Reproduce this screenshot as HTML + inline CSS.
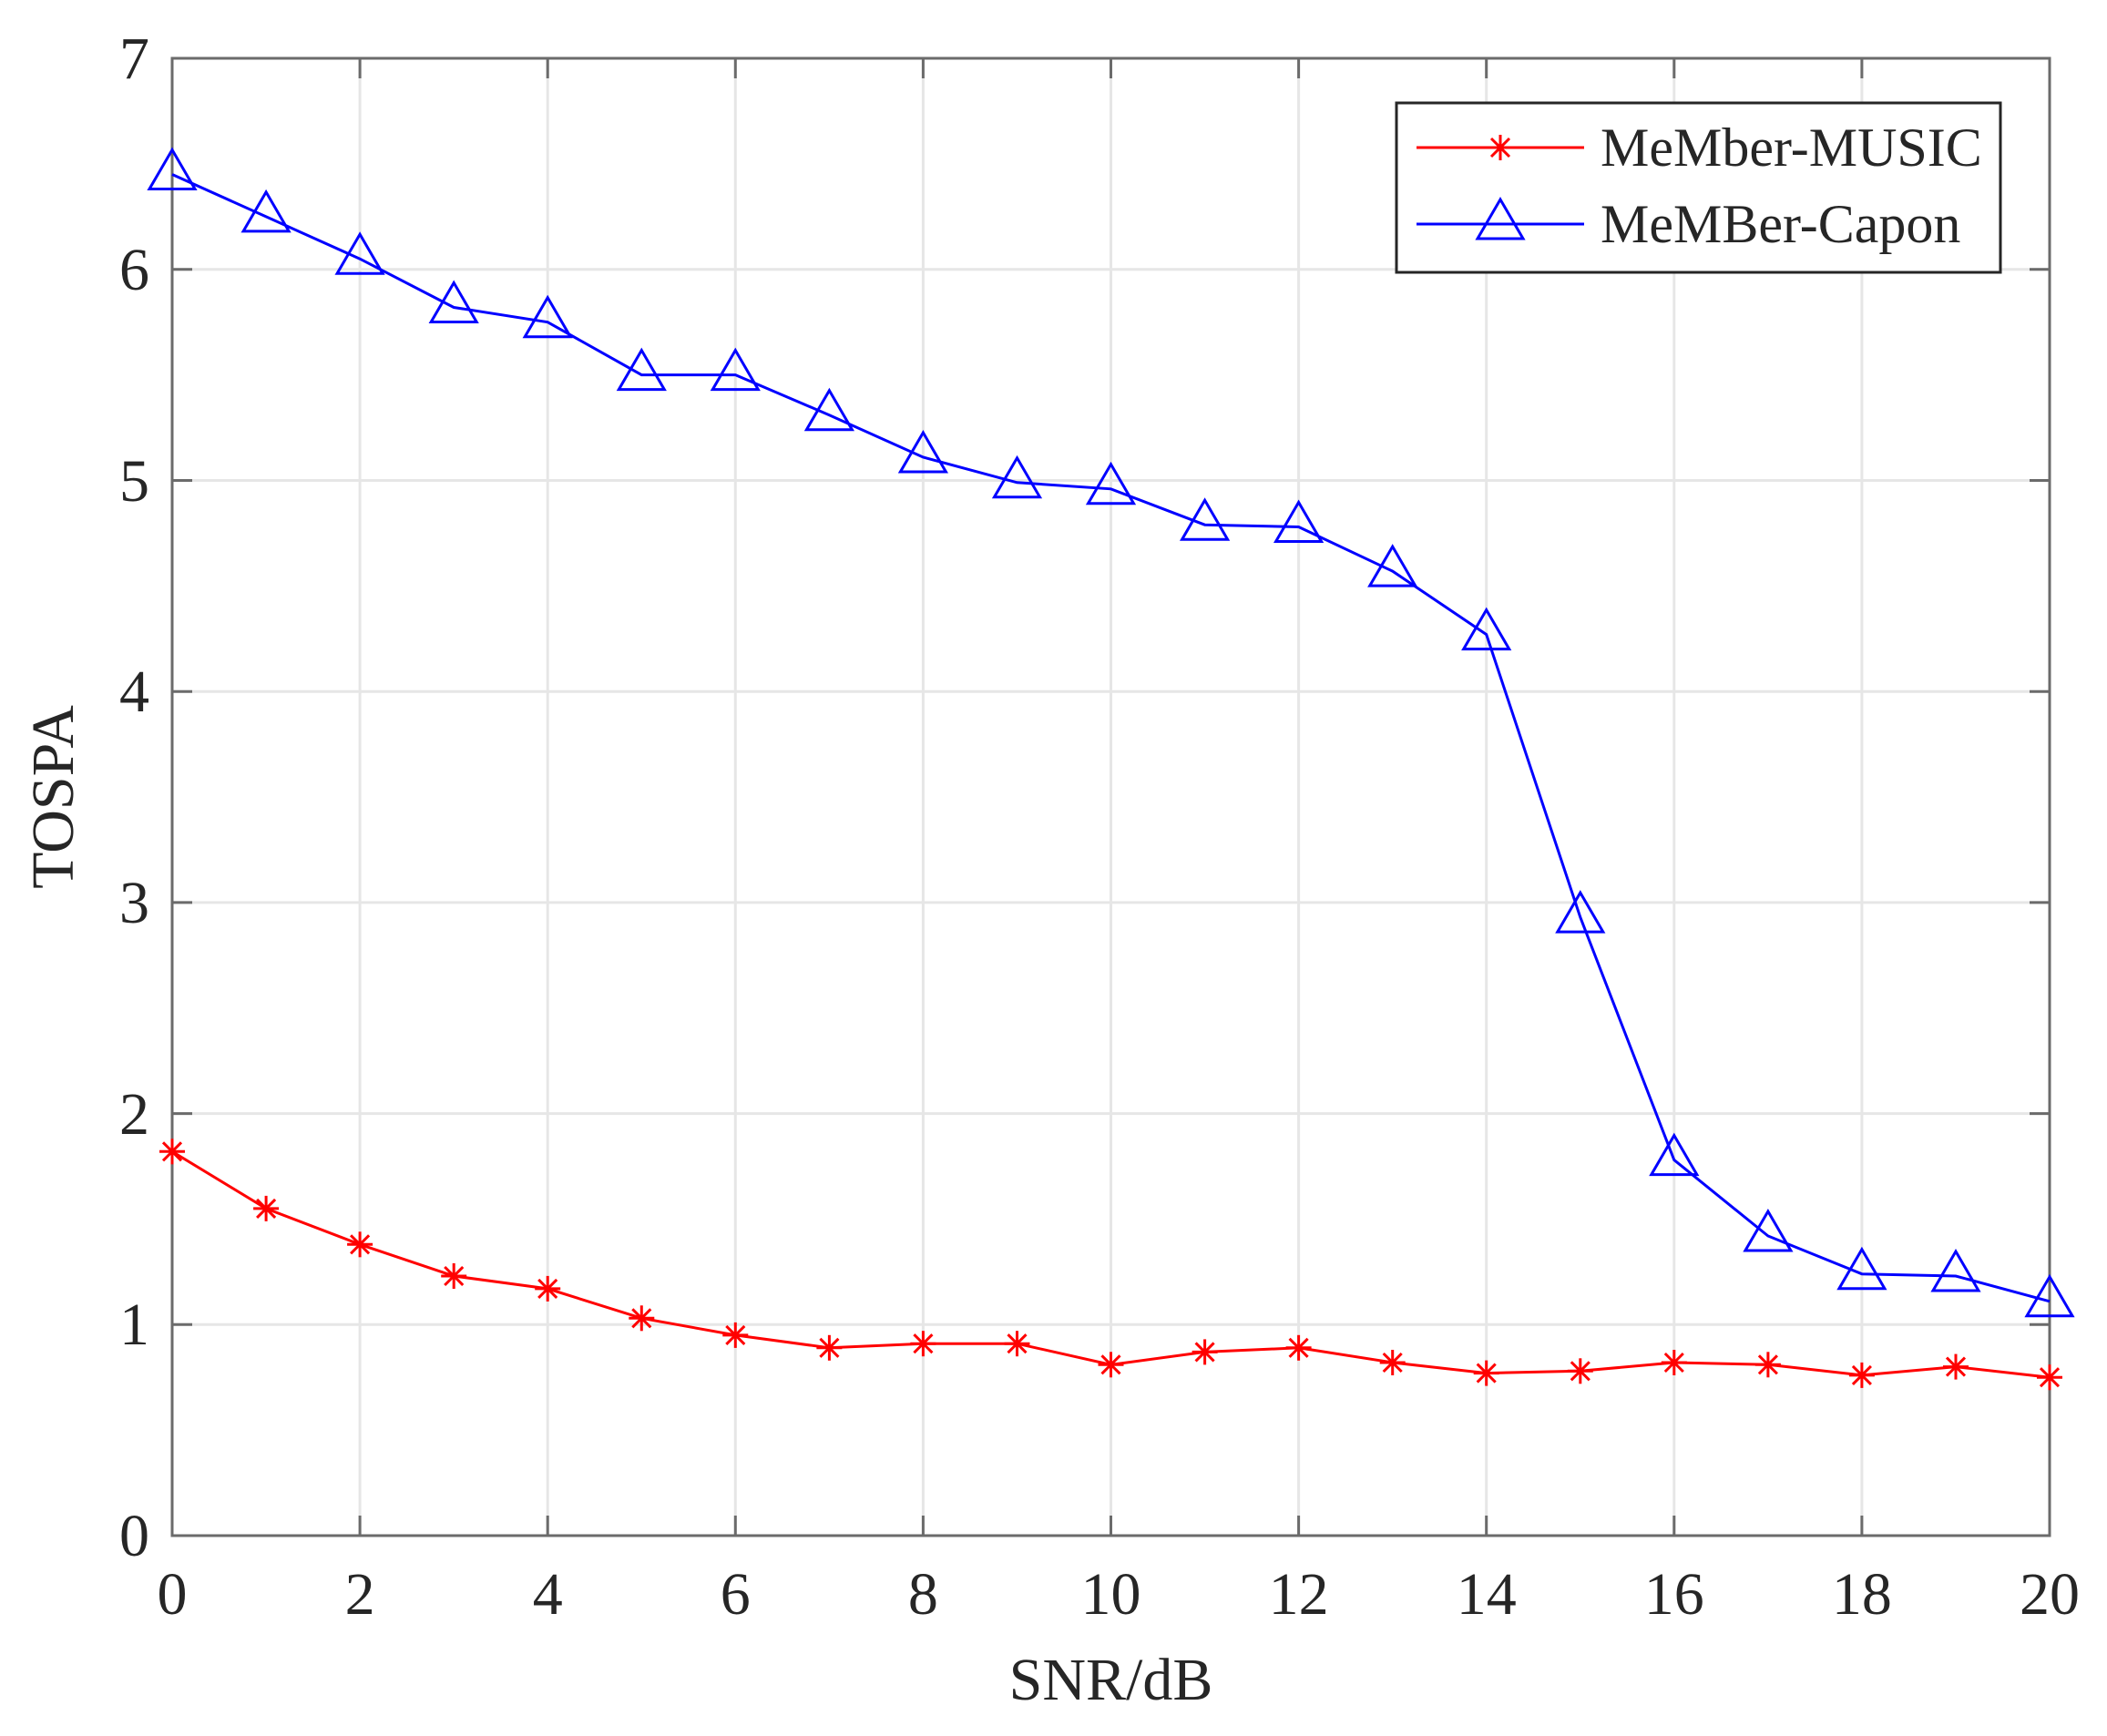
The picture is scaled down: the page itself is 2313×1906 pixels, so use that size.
<!DOCTYPE html>
<html><head><meta charset="utf-8"><style>html,body{margin:0;padding:0;background:#fff}svg{display:block}</style></head>
<body>
<svg width="2313" height="1906" viewBox="0 0 2313 1906" xmlns="http://www.w3.org/2000/svg" font-family="'Liberation Serif',serif" fill="#262626">
<defs>
<path id="tri" d="M0,-27 L25,16 L-25,16Z" fill="none" stroke="#0000ff" stroke-width="3"/>
<g id="ast" stroke="#ff0000" stroke-width="3"><line x1="-14" y1="0" x2="14" y2="0"/><line x1="0" y1="-14" x2="0" y2="14"/><line x1="-10" y1="-10" x2="10" y2="10"/><line x1="-10" y1="10" x2="10" y2="-10"/></g>
</defs>
<rect x="189" y="64" width="2061" height="1622" fill="#fff"/>
<g stroke="#e6e6e6" stroke-width="3">
<line x1="395.1" y1="64" x2="395.1" y2="1686"/><line x1="601.2" y1="64" x2="601.2" y2="1686"/><line x1="807.3" y1="64" x2="807.3" y2="1686"/><line x1="1013.4" y1="64" x2="1013.4" y2="1686"/><line x1="1219.5" y1="64" x2="1219.5" y2="1686"/><line x1="1425.6" y1="64" x2="1425.6" y2="1686"/><line x1="1631.7" y1="64" x2="1631.7" y2="1686"/><line x1="1837.8" y1="64" x2="1837.8" y2="1686"/><line x1="2043.9" y1="64" x2="2043.9" y2="1686"/>
<line x1="189" y1="1454.3" x2="2250" y2="1454.3"/><line x1="189" y1="1222.6" x2="2250" y2="1222.6"/><line x1="189" y1="990.9" x2="2250" y2="990.9"/><line x1="189" y1="759.2" x2="2250" y2="759.2"/><line x1="189" y1="527.5" x2="2250" y2="527.5"/><line x1="189" y1="295.8" x2="2250" y2="295.8"/>
</g>
<g stroke="#6b6b6b" stroke-width="3">
<path d="M395.1,1686v-22M601.2,1686v-22M807.3,1686v-22M1013.4,1686v-22M1219.5,1686v-22M1425.6,1686v-22M1631.7,1686v-22M1837.8,1686v-22M2043.9,1686v-22M395.1,64v22M601.2,64v22M807.3,64v22M1013.4,64v22M1219.5,64v22M1425.6,64v22M1631.7,64v22M1837.8,64v22M2043.9,64v22"/>
<path d="M189,1454.3h22M189,1222.6h22M189,990.9h22M189,759.2h22M189,527.5h22M189,295.8h22M2250,1454.3h-22M2250,1222.6h-22M2250,990.9h-22M2250,759.2h-22M2250,527.5h-22M2250,295.8h-22"/>
<rect x="189" y="64" width="2061" height="1622" fill="none"/>
</g>
<polyline fill="none" stroke="#ff0000" stroke-width="3" points="189,1264.3 292.1,1326.9 395.1,1366.3 498.2,1401 601.2,1414.9 704.3,1447.3 807.3,1465.9 910.4,1479.8 1013.4,1475.2 1116.5,1475.2 1219.5,1498.3 1322.6,1484.4 1425.6,1479.8 1528.7,1496 1631.7,1507.6 1734.8,1505.3 1837.8,1496 1940.9,1498.3 2043.9,1509.9 2147,1500.6 2250,1512.2"/>
<polyline fill="none" stroke="#0000ff" stroke-width="3" points="189,191.5 292.1,237.9 395.1,284.2 498.2,337.5 601.2,353.7 704.3,411.6 807.3,411.6 910.4,455.7 1013.4,502 1116.5,529.8 1219.5,536.8 1322.6,576.2 1425.6,578.5 1528.7,627.1 1631.7,696.6 1734.8,1007.1 1837.8,1273.6 1940.9,1357 2043.9,1398.7 2147,1401 2250,1428.8"/>
<use href="#ast" x="189" y="1264.3"/><use href="#ast" x="292.1" y="1326.9"/><use href="#ast" x="395.1" y="1366.3"/><use href="#ast" x="498.2" y="1401"/><use href="#ast" x="601.2" y="1414.9"/><use href="#ast" x="704.3" y="1447.3"/><use href="#ast" x="807.3" y="1465.9"/><use href="#ast" x="910.4" y="1479.8"/><use href="#ast" x="1013.4" y="1475.2"/><use href="#ast" x="1116.5" y="1475.2"/><use href="#ast" x="1219.5" y="1498.3"/><use href="#ast" x="1322.6" y="1484.4"/><use href="#ast" x="1425.6" y="1479.8"/><use href="#ast" x="1528.7" y="1496"/><use href="#ast" x="1631.7" y="1507.6"/><use href="#ast" x="1734.8" y="1505.3"/><use href="#ast" x="1837.8" y="1496"/><use href="#ast" x="1940.9" y="1498.3"/><use href="#ast" x="2043.9" y="1509.9"/><use href="#ast" x="2147" y="1500.6"/><use href="#ast" x="2250" y="1512.2"/>
<use href="#tri" x="189" y="191.5"/><use href="#tri" x="292.1" y="237.9"/><use href="#tri" x="395.1" y="284.2"/><use href="#tri" x="498.2" y="337.5"/><use href="#tri" x="601.2" y="353.7"/><use href="#tri" x="704.3" y="411.6"/><use href="#tri" x="807.3" y="411.6"/><use href="#tri" x="910.4" y="455.7"/><use href="#tri" x="1013.4" y="502"/><use href="#tri" x="1116.5" y="529.8"/><use href="#tri" x="1219.5" y="536.8"/><use href="#tri" x="1322.6" y="576.2"/><use href="#tri" x="1425.6" y="578.5"/><use href="#tri" x="1528.7" y="627.1"/><use href="#tri" x="1631.7" y="696.6"/><use href="#tri" x="1734.8" y="1007.1"/><use href="#tri" x="1837.8" y="1273.6"/><use href="#tri" x="1940.9" y="1357"/><use href="#tri" x="2043.9" y="1398.7"/><use href="#tri" x="2147" y="1401"/><use href="#tri" x="2250" y="1428.8"/>
<g font-size="66" text-anchor="middle">
<text x="189" y="1772">0</text><text x="395.1" y="1772">2</text><text x="601.2" y="1772">4</text><text x="807.3" y="1772">6</text><text x="1013.4" y="1772">8</text><text x="1219.5" y="1772">10</text><text x="1425.6" y="1772">12</text><text x="1631.7" y="1772">14</text><text x="1837.8" y="1772">16</text><text x="2043.9" y="1772">18</text><text x="2250" y="1772">20</text>
</g>
<g font-size="66" text-anchor="end">
<text x="164" y="1708">0</text><text x="164" y="1476">1</text><text x="164" y="1245">2</text><text x="164" y="1013">3</text><text x="164" y="781">4</text><text x="164" y="550">5</text><text x="164" y="318">6</text><text x="164" y="86">7</text>
</g>
<text x="1219.5" y="1866" font-size="66" text-anchor="middle">SNR/dB</text>
<text transform="translate(80,875) rotate(-90)" font-size="66" text-anchor="middle">TOSPA</text>
<rect x="1533" y="113" width="663" height="186" fill="#fff" stroke="#262626" stroke-width="3"/>
<line x1="1555" y1="162" x2="1739" y2="162" stroke="#ff0000" stroke-width="3"/>
<use href="#ast" x="1647" y="162"/>
<line x1="1555" y1="246" x2="1739" y2="246" stroke="#0000ff" stroke-width="3"/>
<use href="#tri" x="1647" y="246"/>
<text x="1757" y="182" font-size="60">MeMber-MUSIC</text>
<text x="1757" y="266" font-size="60">MeMBer-Capon</text>
</svg>
</body></html>
